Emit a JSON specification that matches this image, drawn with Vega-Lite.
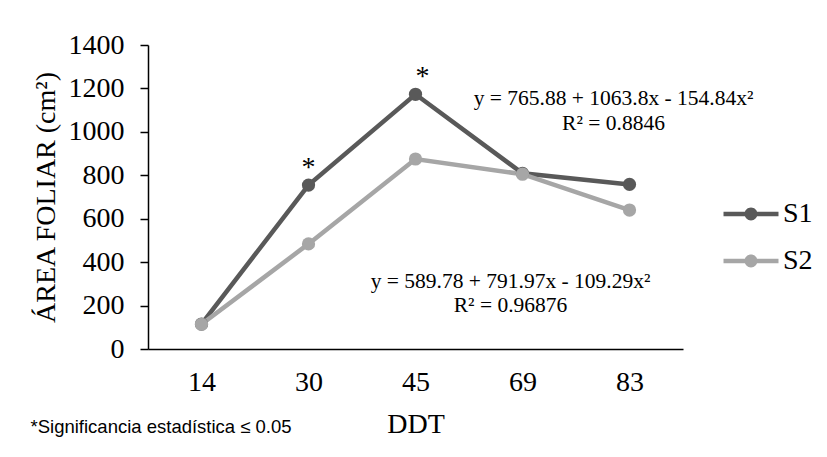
{
  "$schema": "https://vega.github.io/schema/vega-lite/v6.json",
  "width": 535,
  "height": 304,
  "autosize": "none",
  "padding": {"left": 148, "top": 45, "right": 144, "bottom": 108},
  "background": "white",
  "config": {
    "view": {"stroke": null},
    "font": "Liberation Serif",
    "text": {"font": "Liberation Serif"},
    "axis": {"grid": false, "labelFont": "Liberation Serif", "titleFont": "Liberation Serif", "labelColor": "black", "titleColor": "black", "domainColor": "black", "domainWidth": 1.5, "titleFontWeight": "normal"},
    "legend": {"labelFont": "Liberation Serif"}
  },
  "datasets": {
    "area": [
      {"DDT": 14, "serie": "S1", "area": 115},
      {"DDT": 30, "serie": "S1", "area": 755},
      {"DDT": 45, "serie": "S1", "area": 1173},
      {"DDT": 69, "serie": "S1", "area": 809},
      {"DDT": 83, "serie": "S1", "area": 758},
      {"DDT": 14, "serie": "S2", "area": 114},
      {"DDT": 30, "serie": "S2", "area": 484},
      {"DDT": 45, "serie": "S2", "area": 875},
      {"DDT": 69, "serie": "S2", "area": 805},
      {"DDT": 83, "serie": "S2", "area": 640}
    ],
    "signif30": [
      {"DDT": 30, "area": 755, "mark": "*"}
    ],
    "signif45": [
      {"DDT": 45, "area": 1173, "mark": "*"}
    ],
    "eqS1": [
      {"DDT": 83, "pos": 1151, "txt": "y = 765.88 + 1063.8x - 154.84x²"},
      {"DDT": 83, "pos": 1036, "txt": "R² = 0.8846"}
    ],
    "eqS2": [
      {"DDT": 69, "pos": 309, "txt": "y = 589.78 + 791.97x - 109.29x²"},
      {"DDT": 69, "pos": 198, "txt": "R² = 0.96876"}
    ],
    "note": [
      {"DDT": 14, "pos": -359, "txt": "*Significancia estadística ≤ 0.05"}
    ]
  },
  "encoding": {
    "x": {
      "field": "DDT",
      "type": "ordinal",
      "scale": {"type": "point", "domain": [14, 30, 45, 69, 83], "padding": 0.5},
      "axis": {"title": "DDT", "labelAngle": 0, "ticks": false, "labelFontSize": 28, "labelPadding": 19, "titleFontSize": 28, "titlePadding": 14}
    }
  },
  "layer": [
    {
      "data": {"name": "area"},
      "mark": {"type": "line", "strokeWidth": 4.5},
      "encoding": {
        "y": {
          "field": "area",
          "type": "quantitative",
          "scale": {"domain": [0, 1400], "nice": false},
          "axis": {"title": "ÁREA FOLIAR (cm²)", "format": "d", "values": [0, 200, 400, 600, 800, 1000, 1200, 1400], "tickSize": 8, "tickWidth": 1.5, "tickColor": "black", "labelFontSize": 28, "labelPadding": 16, "titleFontSize": 28, "titlePadding": 8}
        },
        "stroke": {"field": "serie", "type": "nominal", "scale": {"domain": ["S1", "S2"], "range": ["#595959", "#A6A6A6"]}}
      }
    },
    {
      "data": {"name": "area"},
      "mark": {"type": "circle", "size": 175, "opacity": 1},
      "encoding": {
        "y": {"field": "area", "type": "quantitative"},
        "fill": {
          "field": "serie",
          "type": "nominal",
          "scale": {"domain": ["S1", "S2"], "range": ["#595959", "#A6A6A6"]},
          "legend": {
            "title": null,
            "orient": "none",
            "legendX": 589,
            "legendY": 155,
            "symbolType": "M-2,-0.16H2V0.16H-2Z M0.47,0A0.47,0.47,0,1,1,-0.47,0A0.47,0.47,0,1,1,0.47,0Z",
            "symbolSize": 756,
            "symbolStrokeWidth": 0,
            "symbolOpacity": 1,
            "labelFontSize": 28,
            "labelFont": "Liberation Serif",
            "labelColor": "black",
            "labelOffset": 18,
            "rowPadding": 19
          }
        }
      }
    },
    {
      "data": {"name": "signif30"},
      "mark": {"type": "text", "font": "Liberation Serif", "fontSize": 28, "baseline": "middle", "dy": -17, "color": "black"},
      "encoding": {
        "y": {"field": "area", "type": "quantitative"},
        "text": {"field": "mark"}
      }
    },
    {
      "data": {"name": "signif45"},
      "mark": {"type": "text", "font": "Liberation Serif", "fontSize": 28, "baseline": "middle", "dx": 7, "dy": -17, "color": "black"},
      "encoding": {
        "y": {"field": "area", "type": "quantitative"},
        "text": {"field": "mark"}
      }
    },
    {
      "data": {"name": "eqS1"},
      "mark": {"type": "text", "font": "Liberation Serif", "fontSize": 21.5, "baseline": "middle", "align": "center", "dx": -16, "color": "black"},
      "encoding": {
        "y": {"field": "pos", "type": "quantitative"},
        "text": {"field": "txt"}
      }
    },
    {
      "data": {"name": "eqS2"},
      "mark": {"type": "text", "font": "Liberation Serif", "fontSize": 21.5, "baseline": "middle", "align": "center", "dx": -12, "color": "black"},
      "encoding": {
        "y": {"field": "pos", "type": "quantitative"},
        "text": {"field": "txt"}
      }
    },
    {
      "data": {"name": "note"},
      "mark": {"type": "text", "font": "Liberation Sans", "fontSize": 18.5, "baseline": "middle", "align": "left", "dx": -171, "color": "black"},
      "encoding": {
        "y": {"field": "pos", "type": "quantitative"},
        "text": {"field": "txt"}
      }
    }
  ]
}
